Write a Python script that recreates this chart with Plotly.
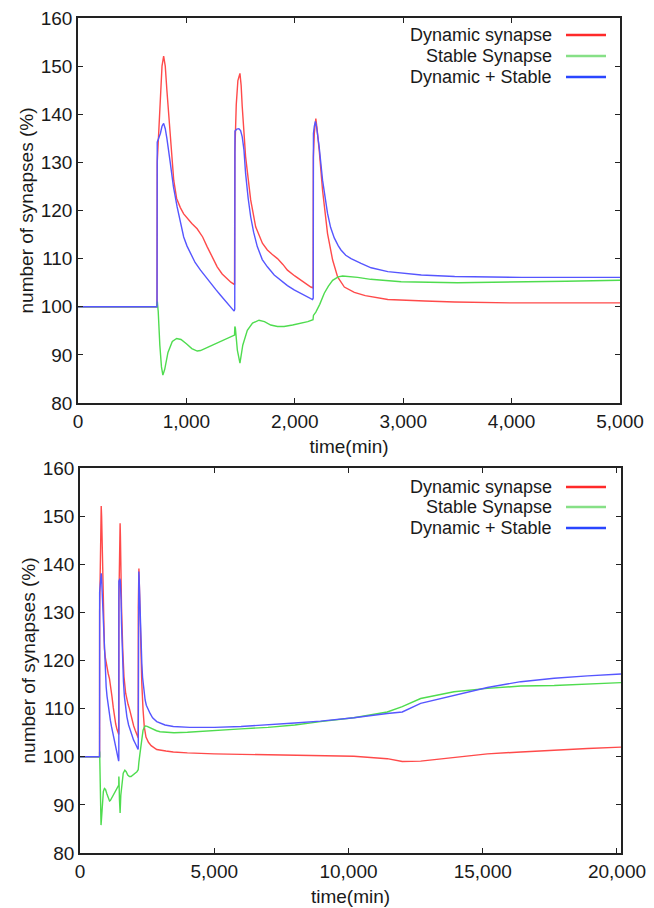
import plotly.graph_objects as go

# ---------------- data (time in min, value in %) ----------------
t_dynamic = [0, 729, 731, 745, 760, 775, 790, 805, 820, 836, 860, 883, 910, 944, 975, 1006,
             1050, 1099, 1150, 1191, 1240, 1284, 1330, 1377, 1410, 1444, 1447, 1460, 1475,
             1494, 1505, 1515, 1546, 1593, 1639, 1701, 1747, 1790, 1840, 1890, 1932, 2000,
             2056, 2100, 2148, 2169, 2171, 2180, 2194, 2205, 2225, 2256, 2302, 2349, 2395,
             2457, 2549, 2650, 2858, 3200, 3475, 4000, 4400, 5000, 6000, 7000, 8000, 8955,
             10199, 11443, 12003, 12687, 13930, 15174, 16418, 17662, 18905, 20149]
dynamic = [100, 100, 130, 137, 144, 150, 152.1, 150, 145, 140, 132, 126.3, 122.5, 120.6,
           119.3, 118.4, 117.3, 116.2, 114.5, 112.5, 110.2, 108.3, 106.8, 105.7, 105.1,
           104.6, 132, 142, 147, 148.5, 146, 141.6, 131.2, 122.2, 116.6, 113.2, 111.8,
           110.9, 110.0, 108.8, 107.6, 106.4, 105.5, 104.8, 104.1, 103.9, 131, 136, 139.1,
           137, 132.6, 124.2, 115.2, 109.7, 106.2, 104.1, 103.0, 102.3, 101.5, 101.2,
           101.0, 100.8, 100.7, 100.6, 100.5, 100.4, 100.3, 100.3, 100.1, 99.6, 99.0,
           99.1, 99.9, 100.6, 101.0, 101.4, 101.7, 102.0]

t_stable = [0, 729, 732, 740, 755, 770, 783, 800, 830, 870, 910, 950, 1000, 1050, 1100,
            1130, 1200, 1300, 1400, 1444, 1447, 1452, 1470, 1494, 1520, 1562, 1610, 1670,
            1720, 1778, 1840, 1901, 1980, 2056, 2120, 2168, 2172, 2194, 2230, 2272, 2310,
            2349, 2400, 2441, 2500, 2580, 2700, 2850, 2981, 3500, 4000, 4500, 5000, 6000,
            7000, 8000, 8955, 10199, 11443, 12003, 12687, 13930, 15174, 16418, 17662,
            18905, 20149]
stable = [100, 100, 101.1, 99, 92, 87.5, 85.8, 87, 90.5, 92.8, 93.4, 93.2, 92.3, 91.3,
          90.8, 90.9, 91.6, 92.6, 93.6, 94.1, 95.9, 95.5, 91, 88.3, 92, 95.1, 96.6, 97.2,
          96.9, 96.2, 95.9, 95.9, 96.2, 96.5, 96.9, 97.3, 98.2, 98.9, 100.5, 102.8, 104.3,
          105.5, 106.2, 106.4, 106.3, 106.1, 105.7, 105.4, 105.2, 105.0, 105.1, 105.3,
          105.5, 105.8, 106.1, 106.6, 107.3, 108.1, 109.3, 110.4, 112.1, 113.5, 114.2,
          114.7, 114.8, 115.1, 115.4]

t_total = [0, 729, 731, 745, 760, 775, 790, 805, 820, 852, 880, 914, 945, 975, 1006, 1037,
           1080, 1130, 1176, 1222, 1270, 1315, 1360, 1407, 1440, 1446, 1448, 1465, 1484,
           1500, 1515, 1531, 1546, 1570, 1593, 1620, 1654, 1700, 1747, 1810, 1870, 1932,
           1994, 2056, 2117, 2164, 2170, 2172, 2180, 2190, 2200, 2225, 2256, 2302, 2330,
           2364, 2400, 2426, 2470, 2519, 2611, 2704, 2858, 3167, 3475, 4092, 5000, 6000,
           7000, 8000, 8955, 10199, 11443, 12003, 12687, 13930, 15174, 16418, 17662,
           18905, 20149]
total = [100, 100, 134.2, 135, 136, 137.5, 138.1, 137, 135, 129.8, 125, 120.8, 117.3,
         114.5, 112.6, 111.1, 109.2, 107.6, 106.2, 104.8, 103.6, 102.4, 101.2, 100.0, 99.1,
         99.5, 136.5, 136.9, 137.0, 136.6, 135.3, 132.6, 127.7, 122.5, 118.7, 115.5, 112.5,
         109.8, 108.3, 106.6, 105.5, 104.4, 103.5, 102.8, 102.1, 101.5, 101.8, 136, 137.5,
         138.5, 137.5, 133.2, 126.3, 119.4, 116.5, 114.3, 112.7, 111.8, 110.7, 110.0,
         109.0, 108.1, 107.3, 106.6, 106.3, 106.1, 106.1, 106.3, 106.6, 107.0, 107.4,
         108.1, 109.0, 109.3, 111.1, 112.8, 114.4, 115.6, 116.3, 116.8, 117.2]

series_names = ["Dynamic synapse", "Stable Synapse", "Dynamic + Stable"]
y_ticks = [80, 90, 100, 110, 120, 130, 140, 150, 160]
x_ticks_top = [0, 1000, 2000, 3000, 4000, 5000]
x_ticks_bottom = [0, 5000, 10000, 15000, 20000]

# ---------------- styling ----------------
W, H = 654, 908
line_colors = ["#ff4a4a", "#4fdc4f", "#5656ff"]
legend_colors = ["#ff2a2a", "#86e086", "#2a46ff"]
FONT = "Liberation Sans, Arial, Helvetica, sans-serif"
TXT = "#1a1a1a"

def px_x(p):
    return p / W

def px_y(p):
    return 1 - p / H

fig = go.Figure()
data = [(t_dynamic, dynamic), (t_stable, stable), (t_total, total)]
for ax in ["", "2"]:
    for (tx, vy), name, col in zip(data, series_names, line_colors):
        fig.add_trace(go.Scatter(x=tx, y=vy, mode="lines", name=name,
                                 line=dict(color=col, width=1.4),
                                 xaxis="x" + ax, yaxis="y" + ax,
                                 showlegend=False, hoverinfo="skip"))

axis_common = dict(showline=True, linecolor="#222", linewidth=1.5, mirror="ticks",
                   ticks="inside", ticklen=5, tickwidth=1.2, tickcolor="#222",
                   showgrid=False, zeroline=False, automargin=False,
                   tickfont=dict(family=FONT, size=19, color=TXT))
title_font = dict(family=FONT, size=19, color=TXT)

fig.update_layout(
    width=W, height=H, margin=dict(l=0, r=0, t=0, b=0, autoexpand=False),
    paper_bgcolor="white", plot_bgcolor="white", showlegend=False,
    xaxis=dict(axis_common, domain=[px_x(78), px_x(620)], range=[0, 5000],
               tickvals=x_ticks_top, tickformat=",d", anchor="y",
               title=dict(text="time(min)", font=title_font, standoff=9)),
    yaxis=dict(axis_common, domain=[px_y(403), px_y(18)], range=[80, 160],
               tickvals=y_ticks, anchor="x",
               title=dict(text="number of synapses (%)", font=title_font, standoff=2)),
    xaxis2=dict(axis_common, domain=[px_x(80), px_x(621)], range=[0, 20150],
                tickvals=x_ticks_bottom, tickformat=",d", anchor="y2",
                title=dict(text="time(min)", font=title_font, standoff=9)),
    yaxis2=dict(axis_common, domain=[px_y(853), px_y(468)], range=[80, 160],
                tickvals=y_ticks, anchor="x2",
                title=dict(text="number of synapses (%)", font=title_font, standoff=2)),
)

# legends (text right-aligned, sample line on the right)
annotations = []
shapes = []
for rows in ([35, 56, 77], [487, 507, 528]):
    for name, col, py in zip(series_names, legend_colors, rows):
        annotations.append(dict(text=name, xref="paper", yref="paper", x=px_x(554),
                                y=px_y(py), xanchor="right", yanchor="middle",
                                showarrow=False,
                                font=dict(family=FONT, size=18, color=TXT)))
        shapes.append(dict(type="line", xref="paper", yref="paper", x0=px_x(566),
                           x1=px_x(606), y0=px_y(py), y1=px_y(py),
                           line=dict(color=col, width=2.5)))
fig.update_layout(annotations=annotations, shapes=shapes)

fig.write_html("out.html")
